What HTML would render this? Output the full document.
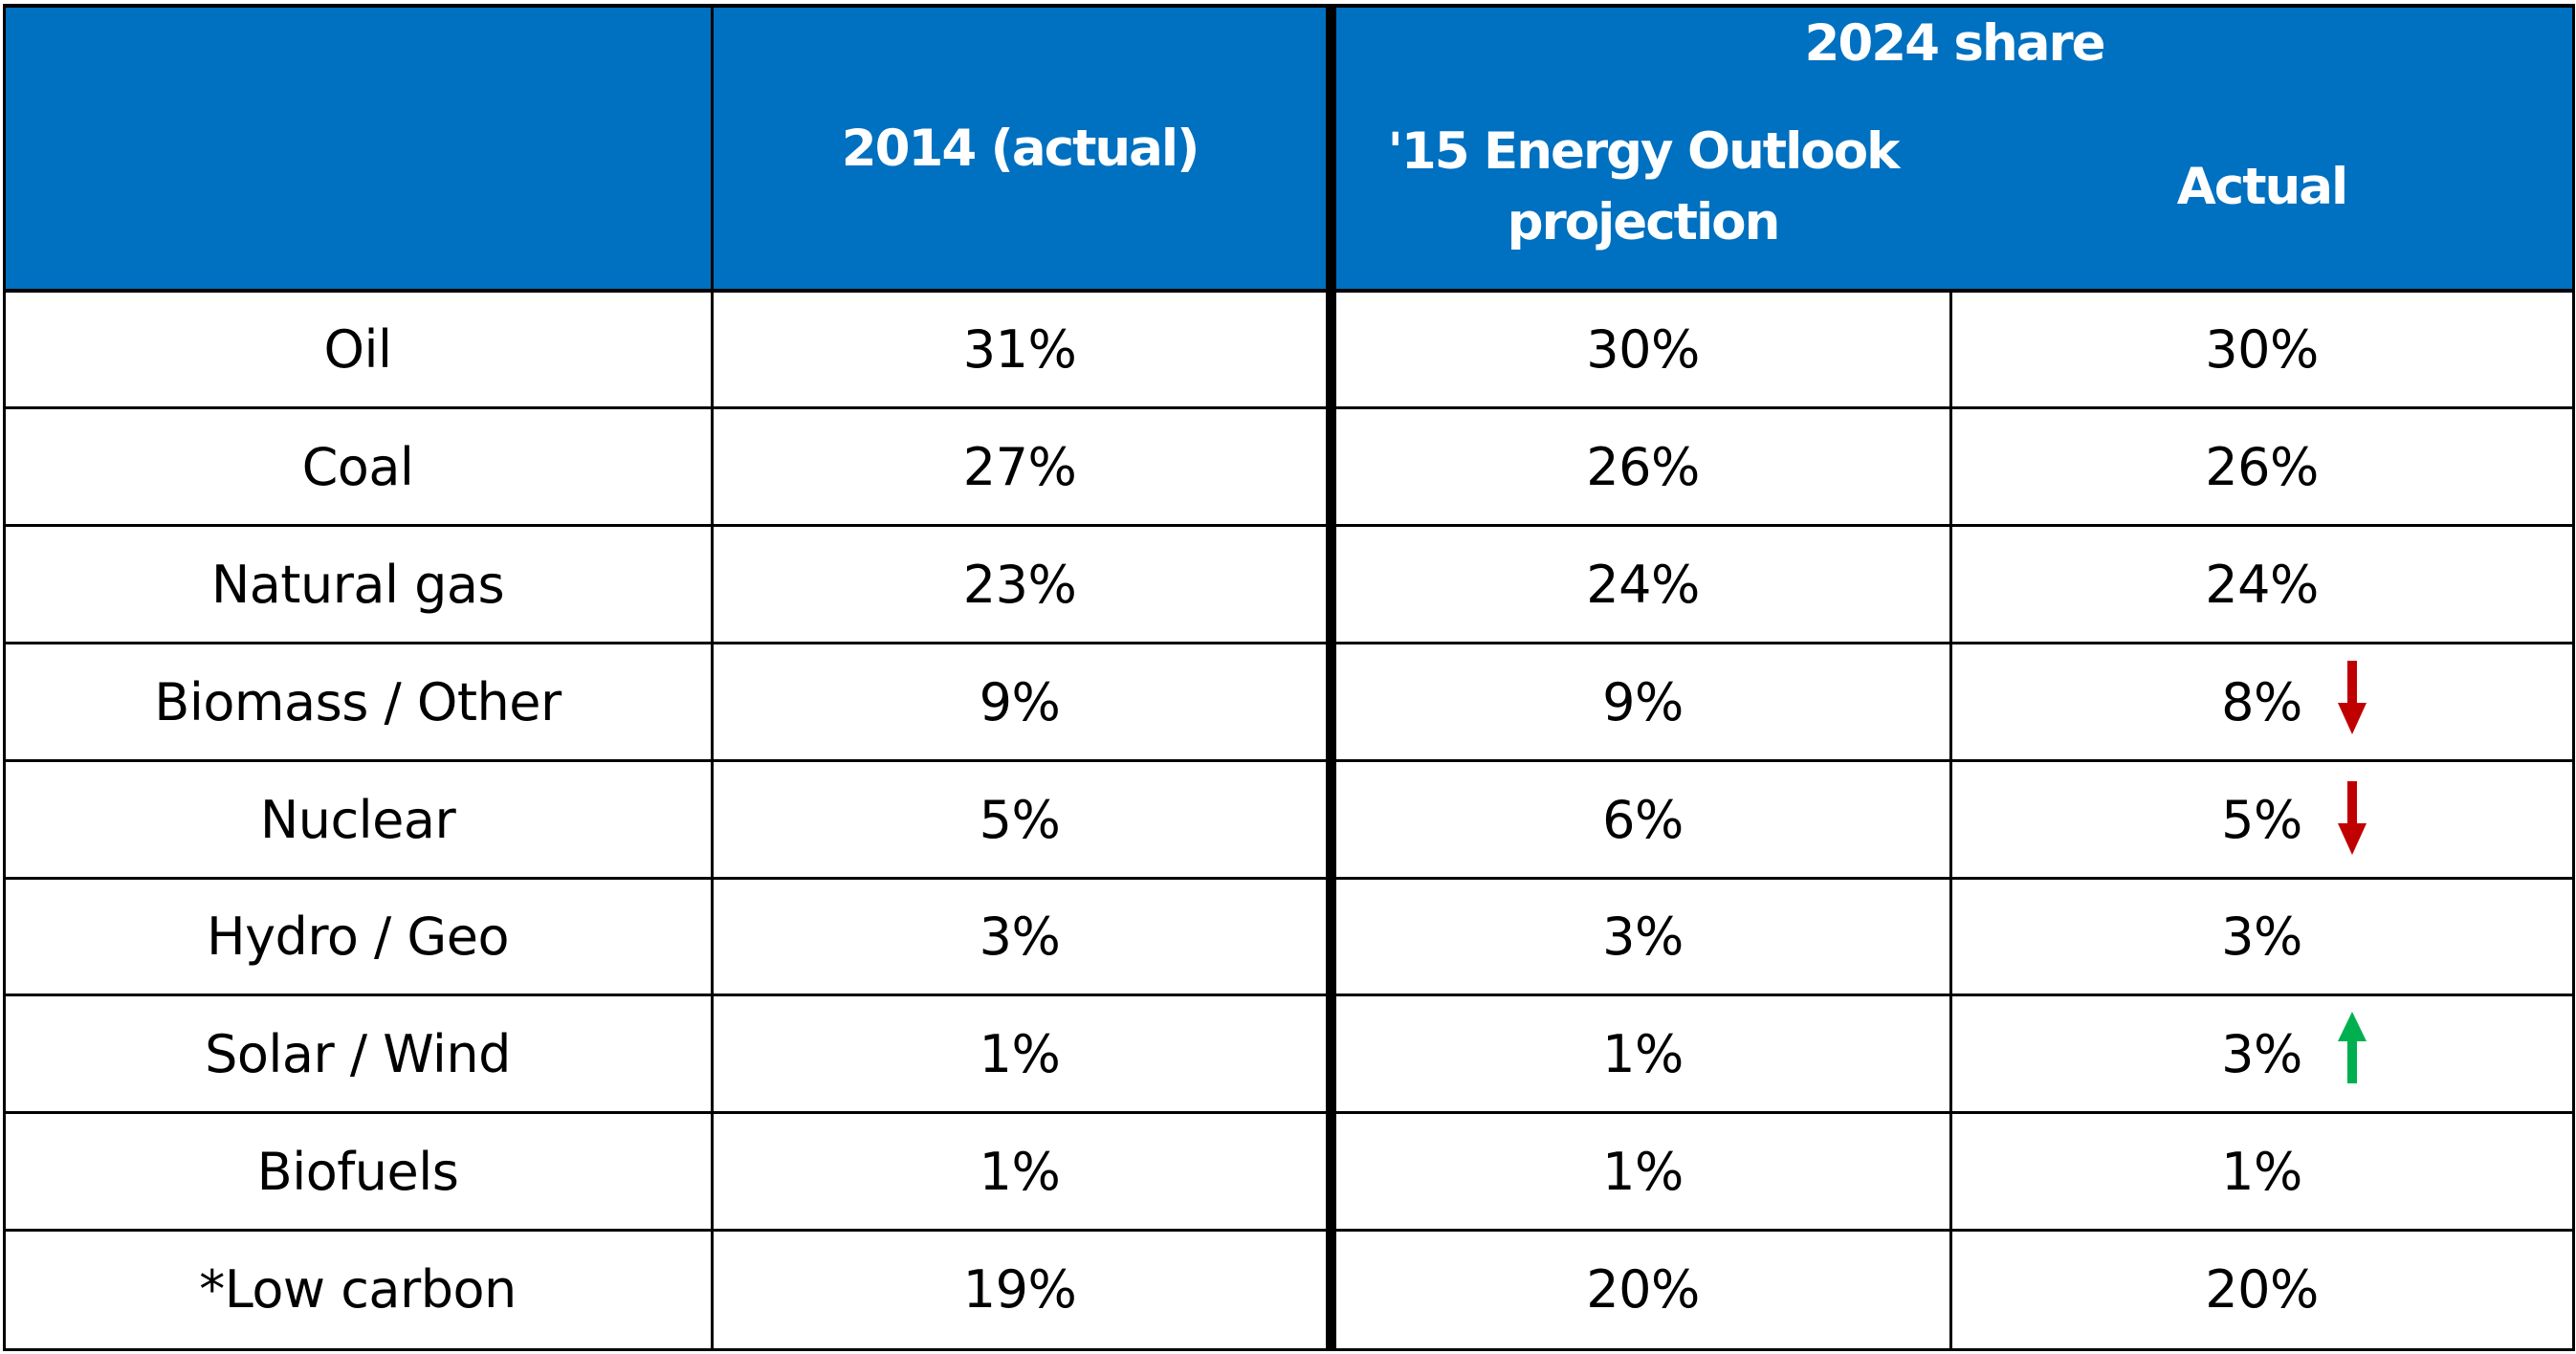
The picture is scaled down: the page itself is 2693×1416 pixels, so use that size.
<!DOCTYPE html>
<html><head><style>
html,body{margin:0;padding:0;background:#fff;}
body{width:2693px;height:1416px;position:relative;overflow:hidden;font-family:"DejaVu Sans","Liberation Sans",sans-serif;}
.abs{position:absolute;}
.hdr{position:absolute;left:5px;top:5px;width:2686px;height:299px;background:#0070C0;}
.h{position:absolute;background:#000;height:3px;left:4px;width:2688px;}
.v{position:absolute;background:#000;width:3px;}
.t{position:absolute;text-align:center;font-size:54px;letter-spacing:-0.5px;color:#000;line-height:123px;height:123px;}
.w{position:absolute;text-align:center;color:#fff;font-weight:bold;font-size:53px;letter-spacing:-2px;line-height:72px;}
</style></head><body>
<div class="hdr"></div>
<div class="h" style="top:4px;height:4px"></div>
<div class="h" style="top:302px;height:4px"></div>
<div class="h" style="top:425px"></div>
<div class="h" style="top:548px"></div>
<div class="h" style="top:671px"></div>
<div class="h" style="top:794px"></div>
<div class="h" style="top:917px"></div>
<div class="h" style="top:1039px"></div>
<div class="h" style="top:1162px"></div>
<div class="h" style="top:1285px"></div>
<div class="h" style="top:1410px"></div>
<div class="v" style="left:3px;top:4px;height:1409px"></div>
<div class="v" style="left:743px;top:4px;height:1409px"></div>
<div class="v" style="left:1386px;top:4px;height:1409px;width:11px"></div>
<div class="v" style="left:2038px;top:304px;height:1109px"></div>
<div class="v" style="left:2689px;top:4px;height:1409px"></div>

<div class="w" style="left:1397px;width:1292px;top:10px">2024 share</div>
<div class="w" style="left:746px;width:640px;top:120px">2014 (actual)</div>
<div class="w" style="left:1397px;width:641px;top:122px;line-height:74px">'15 Energy Outlook<br>projection</div>
<div class="w" style="left:2040px;width:649px;top:160px">Actual</div>

<div class="t" style="left:5px;width:738px;top:304px">Oil</div>
<div class="t" style="left:746px;width:640px;top:304px">31%</div>
<div class="t" style="left:1397px;width:641px;top:304px">30%</div>
<div class="t" style="left:2040px;width:649px;top:304px">30%</div>

<div class="t" style="left:5px;width:738px;top:427px">Coal</div>
<div class="t" style="left:746px;width:640px;top:427px">27%</div>
<div class="t" style="left:1397px;width:641px;top:427px">26%</div>
<div class="t" style="left:2040px;width:649px;top:427px">26%</div>

<div class="t" style="left:5px;width:738px;top:550px">Natural gas</div>
<div class="t" style="left:746px;width:640px;top:550px">23%</div>
<div class="t" style="left:1397px;width:641px;top:550px">24%</div>
<div class="t" style="left:2040px;width:649px;top:550px">24%</div>

<div class="t" style="left:5px;width:738px;top:673px">Biomass / Other</div>
<div class="t" style="left:746px;width:640px;top:673px">9%</div>
<div class="t" style="left:1397px;width:641px;top:673px">9%</div>
<div class="t" style="left:2040px;width:649px;top:673px">8%</div>

<div class="t" style="left:5px;width:738px;top:796px">Nuclear</div>
<div class="t" style="left:746px;width:640px;top:796px">5%</div>
<div class="t" style="left:1397px;width:641px;top:796px">6%</div>
<div class="t" style="left:2040px;width:649px;top:796px">5%</div>

<div class="t" style="left:5px;width:738px;top:918px">Hydro / Geo</div>
<div class="t" style="left:746px;width:640px;top:918px">3%</div>
<div class="t" style="left:1397px;width:641px;top:918px">3%</div>
<div class="t" style="left:2040px;width:649px;top:918px">3%</div>

<div class="t" style="left:5px;width:738px;top:1041px">Solar / Wind</div>
<div class="t" style="left:746px;width:640px;top:1041px">1%</div>
<div class="t" style="left:1397px;width:641px;top:1041px">1%</div>
<div class="t" style="left:2040px;width:649px;top:1041px">3%</div>

<div class="t" style="left:5px;width:738px;top:1164px">Biofuels</div>
<div class="t" style="left:746px;width:640px;top:1164px">1%</div>
<div class="t" style="left:1397px;width:641px;top:1164px">1%</div>
<div class="t" style="left:2040px;width:649px;top:1164px">1%</div>

<div class="t" style="left:5px;width:738px;top:1287px">*Low carbon</div>
<div class="t" style="left:746px;width:640px;top:1287px">19%</div>
<div class="t" style="left:1397px;width:641px;top:1287px">20%</div>
<div class="t" style="left:2040px;width:649px;top:1287px">20%</div>

<svg class="abs" style="left:0;top:0" width="2693" height="1416">
<polygon points="2454,691 2464,691 2464,735 2474,735 2459,768 2444,735 2454,735" fill="#C00000"/>
<polygon points="2454,817 2464,817 2464,861 2474,861 2459,894 2444,861 2454,861" fill="#C00000"/>
<polygon points="2454,1133 2464,1133 2464,1089 2474,1089 2459,1058 2444,1089 2454,1089" fill="#00B050"/>
</svg>
</body></html>
